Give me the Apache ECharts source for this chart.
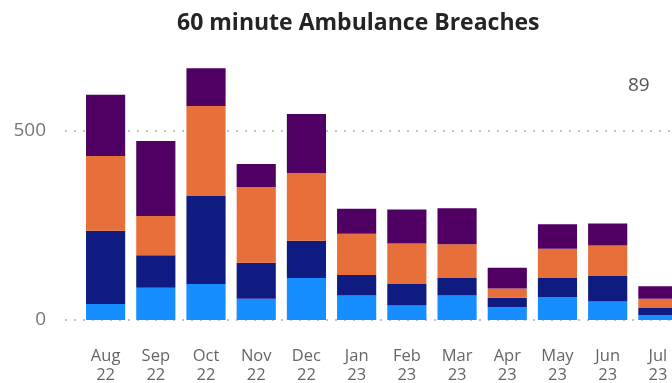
<!DOCTYPE html>
<html>
<head>
<meta charset="utf-8">
<script src="https://cdn.jsdelivr.net/npm/echarts@6/dist/echarts.min.js"></script>
<style>
  html, body { margin: 0; padding: 0; background: #fff; }
  #chart { width: 672px; height: 383px; }
</style>
</head>
<body>
<div id="chart"></div>
<script>
// months shown on the x axis
var months = ['Aug\n22', 'Sep\n22', 'Oct\n22', 'Nov\n22', 'Dec\n22', 'Jan\n23',
              'Feb\n23', 'Mar\n23', 'Apr\n23', 'May\n23', 'Jun\n23', 'Jul\n23'];

// stacked segments, bottom to top
var seriesA = [42, 85, 95, 56, 111, 65, 38, 65, 34, 60, 49, 13];
var seriesB = [194, 86, 234, 95, 98, 54, 57, 46, 25, 51, 67, 19];
var seriesC = [197, 104, 236, 200, 179, 109, 107, 89, 24, 77, 81, 24];
var seriesD = [162, 198, 100, 61, 156, 66, 90, 95, 55, 65, 58, 33];

var yTicks = [0, 500];

var colors = ['#168EFF', '#0F1B80', '#E7703A', '#4F0062'];

var lastIdx = months.length - 1;
var lastTotal = seriesA[lastIdx] + seriesB[lastIdx] + seriesC[lastIdx] + seriesD[lastIdx];

var myChart = echarts.init(document.getElementById('chart'));

function bar(name, data, color) {
    return {
        name: name,
        type: 'bar',
        stack: 'total',
        xAxisIndex: 0,
        yAxisIndex: 0,
        barCategoryGap: '22%',
        itemStyle: { color: color },
        data: data
    };
}

myChart.setOption({
    animation: false,
    title: {
        text: '60 minute Ambulance Breaches',
        left: 172,
        top: 7,
        textStyle: {
            fontFamily: 'Open Sans',
            fontWeight: 'bold',
            fontSize: 23,
            color: '#252423'
        }
    },
    grid: [
        { left: 80.5, width: 602.5, top: 17.1, height: 302.9, outerBoundsMode: 'none', containLabel: false },
        { left: 65, right: 0, top: 17.1, height: 302.9, outerBoundsMode: 'none', containLabel: false }
    ],
    xAxis: [
        {
            type: 'category',
            gridIndex: 0,
            data: months,
            axisLine: { show: false },
            axisTick: { show: false },
            axisLabel: {
                margin: 27,
                fontFamily: 'Open Sans',
                fontSize: 16.5,
                lineHeight: 19,
                color: '#666'
            }
        },
        { type: 'value', gridIndex: 1, min: 0, max: 1, show: false }
    ],
    yAxis: [
        { type: 'value', gridIndex: 0, min: 0, max: 800, interval: 500, show: false },
        {
            type: 'value',
            gridIndex: 1,
            min: 0,
            max: 800,
            interval: 500,
            axisLine: { show: false },
            axisTick: { show: false },
            axisLabel: {
                margin: 19,
                showMaxLabel: false,
                fontFamily: 'Open Sans',
                fontSize: 19,
                color: '#777',
                formatter: function (v) { return yTicks.indexOf(v) >= 0 ? String(v) : ''; }
            },
            splitLine: {
                showMaxLine: false,
                lineStyle: { color: '#b0b0b0', width: 1.5, type: [2, 7] }
            }
        }
    ],
    graphic: [{
        type: 'text',
        left: 628,
        top: 76,
        style: {
            text: String(lastTotal),
            fontFamily: 'Open Sans',
            fontSize: 19,
            fill: '#555'
        }
    }],
    series: [
        bar('A', seriesA, colors[0]),
        bar('B', seriesB, colors[1]),
        bar('C', seriesC, colors[2]),
        bar('D', seriesD, colors[3])
    ]
});
</script>
</body>
</html>
